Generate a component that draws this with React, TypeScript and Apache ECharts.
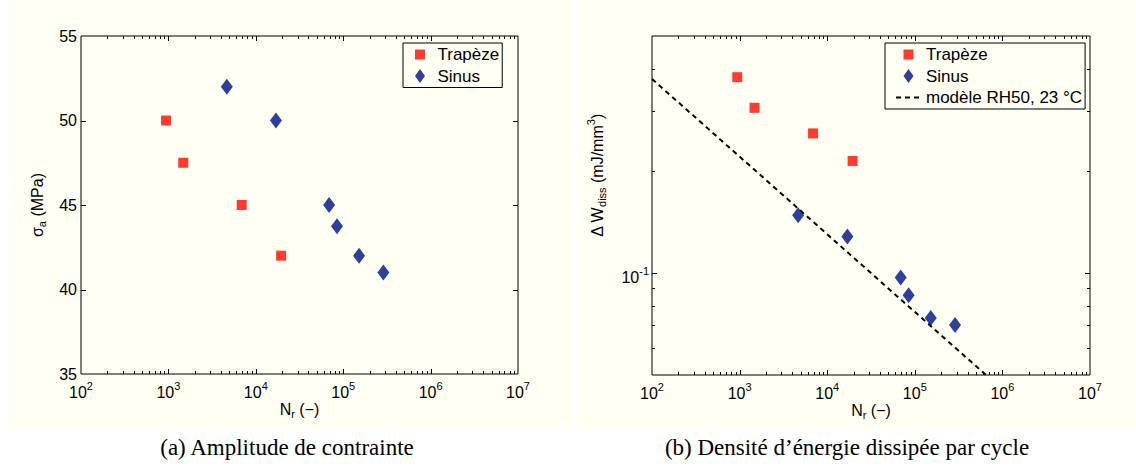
import React, { useEffect, useRef } from "react";
import * as echarts from "echarts";

// ---------- data ----------
const cyclesTrapeze = [940, 1480, 6900, 19500];
const cyclesSinus = [4660, 17000, 69000, 85000, 152000, 288000];
const stressTrapeze = [50, 47.5, 45, 42];
const stressSinus = [52, 50, 45, 43.75, 42, 41];
const energyTrapeze = [0.378, 0.307, 0.258, 0.214];
const energySinus = [0.148, 0.128, 0.097, 0.086, 0.0737, 0.0702];
const modelCycles = [100, 650000];
const modelEnergy = [0.3734, 0.05];

const seriesNames = ["Trapèze", "Sinus", "modèle RH50, 23 °C"];
const captions = ["(a) Amplitude de contrainte", "(b) Densité d’énergie dissipée par cycle"];

// tick values
const cycleDecades = [100, 1000, 10000, 100000, 1000000];
const cycleMajorTicks = [1000, 10000, 100000, 1000000];
const cycleMinorTicks = cycleDecades.flatMap((d) => [2, 3, 4, 5, 6, 7, 8, 9].map((m) => m * d));
const stressTicks = [40, 45, 50];
const energyMajorTicks = [0.1];
const energyMinorTicks = [0.06, 0.07, 0.08, 0.09, 0.2, 0.3, 0.4];

const FONT = "Liberation Sans, Arial, Helvetica, sans-serif";
const SERIF = "Liberation Serif, Times New Roman, serif";
const CREAM = "#fffff3";
const RED = "#ff3b2f";
const BLUE = "#2f3f9f";

const squareIcon = "path://M0,0M14,14M2,2L12,2L12,12L2,12Z";
const diamondIcon = "path://M0,0M14,14M7,0L12,7L7,14L2,7Z";

const rich = {
  b: { fontSize: 16, lineHeight: 16, padding: [5, 0, 5, 0], verticalAlign: "top", fontFamily: FONT, color: "#000" },
  s: { fontSize: 11, lineHeight: 11, padding: [1, 0, 14, 0], verticalAlign: "top", fontFamily: FONT, color: "#000" },
  u: { fontSize: 11, lineHeight: 11, padding: [12, 0, 3, 0], verticalAlign: "top", fontFamily: FONT, color: "#000" },
};

const zip = (a: number[], b: number[]) => a.map((v, i) => [v, b[i]]);

function tickSeries(axis: "x" | "y", grid: number, values: number[], ref: number, len: number) {
  return {
    type: "custom",
    xAxisIndex: grid,
    yAxisIndex: grid,
    silent: true,
    clip: false,
    z: 5,
    data: values.map((v) => (axis === "x" ? [v, ref] : [ref, v])),
    encode: { x: 0, y: 1 },
    renderItem: (params: any, api: any) => {
      const cs = params.coordSys;
      const p = api.coord([api.value(0), api.value(1)]);
      const st = { stroke: "#000", lineWidth: 1 };
      if (axis === "x") {
        const x = Math.round(p[0]) + 0.5;
        const b = cs.y + cs.height;
        return {
          type: "group",
          children: [
            { type: "line", shape: { x1: x, y1: b, x2: x, y2: b - len }, style: st },
            { type: "line", shape: { x1: x, y1: cs.y, x2: x, y2: cs.y + len }, style: st },
          ],
        };
      }
      const y = Math.round(p[1]) + 0.5;
      const r = cs.x + cs.width;
      return {
        type: "group",
        children: [
          { type: "line", shape: { x1: cs.x, y1: y, x2: cs.x + len, y2: y }, style: st },
          { type: "line", shape: { x1: r, y1: y, x2: r - len, y2: y }, style: st },
        ],
      };
    },
  };
}

const xAxisBase = (grid: number) => ({
  type: "log",
  logBase: 10,
  gridIndex: grid,
  min: 100,
  max: 10000000,
  splitNumber: 5,
  axisLine: { show: false },
  axisTick: { show: false },
  splitLine: { show: false },
  axisLabel: {
    margin: 5,
    formatter: (v: number) => `{b|10}{s|${Math.round(Math.log10(v))}}`,
    rich,
  },
  name: "{b|N}{u|r}{b| (−)}",
  nameLocation: "middle",
  nameGap: 22,
  nameMoveOverlap: false,
  nameTextStyle: { rich },
});

export default function App() {
  const ref = useRef<HTMLDivElement>(null);
  useEffect(() => {
    if (!ref.current) return;
    const chart = echarts.init(ref.current, null, { renderer: "svg" });
    const legendCommon = {
      orient: "vertical",
      itemWidth: 25,
      itemHeight: 14,
      itemGap: 4.5,
      padding: [3, 3, 3, 10],
      borderColor: "#000",
      borderWidth: 1,
      backgroundColor: CREAM,
      selectedMode: false,
      textStyle: { fontSize: 17, color: "#000", fontFamily: FONT },
    };
    const option: any = {
      animation: false,
      backgroundColor: "#ffffff",
      textStyle: { fontFamily: FONT },
      grid: [
        { left: 81, top: 36, width: 437, height: 338, show: true, borderColor: "#000", borderWidth: 1, backgroundColor: "transparent" },
        { left: 652, top: 36, width: 438, height: 339, show: true, borderColor: "#000", borderWidth: 1, backgroundColor: "transparent" },
      ],
      xAxis: [xAxisBase(0), xAxisBase(1)],
      yAxis: [
        {
          type: "value",
          gridIndex: 0,
          min: 35,
          max: 55,
          interval: 5,
          axisLine: { show: false },
          axisTick: { show: false },
          splitLine: { show: false },
          axisLabel: { margin: 4, fontSize: 16, color: "#000", fontFamily: FONT },
          name: "{b|σ}{u|a}{b| (MPa)}",
          nameLocation: "middle",
          nameGap: 41,
          nameMoveOverlap: false,
          nameTextStyle: { rich },
        },
        {
          type: "log",
          logBase: 10,
          gridIndex: 1,
          min: 0.05,
          max: 0.5,
          axisLine: { show: false },
          axisTick: { show: false },
          splitLine: { show: false },
          axisLabel: {
            margin: 3,
            showMinLabel: false,
            showMaxLabel: false,
            formatter: (v: number) => (Math.abs(Math.log10(v) + 1) < 1e-6 ? "{b|10}{s|-1}" : ""),
            rich,
          },
          name: "{b|Δ W}{u|diss}{b| (mJ/mm}{s|3}{b|)}",
          nameLocation: "middle",
          nameGap: 52,
          nameMoveOverlap: false,
          nameTextStyle: { rich, padding: [0, 0, 0, 60] },
        },
      ],
      legend: [
        { ...legendCommon, left: 403, top: 43, data: [{ name: seriesNames[0], icon: squareIcon }, { name: seriesNames[1], icon: diamondIcon }] },
        {
          ...legendCommon,
          left: 885,
          top: 43,
          data: [
            { name: seriesNames[0], icon: squareIcon },
            { name: seriesNames[1], icon: diamondIcon },
            { name: seriesNames[2], itemStyle: { opacity: 0 } },
          ],
        },
      ],
      graphic: [
        { type: "rect", z: -10, shape: { x: 7, y: 0, width: 565, height: 430 }, style: { fill: CREAM } },
        { type: "rect", z: -10, shape: { x: 578, y: 0, width: 558, height: 430 }, style: { fill: CREAM } },
        { type: "text", x: 287, y: 447, style: { text: captions[0], font: `23px ${SERIF}`, fill: "#000", textAlign: "center", textVerticalAlign: "middle" } },
        { type: "text", x: 847, y: 447, style: { text: captions[1], font: `23px ${SERIF}`, fill: "#000", textAlign: "center", textVerticalAlign: "middle" } },
      ],
      series: [
        { name: seriesNames[0], type: "scatter", xAxisIndex: 0, yAxisIndex: 0, symbol: "rect", symbolSize: 10, itemStyle: { color: RED, opacity: 1 }, data: zip(cyclesTrapeze, stressTrapeze), z: 3 },
        { name: seriesNames[1], type: "scatter", xAxisIndex: 0, yAxisIndex: 0, symbol: "diamond", symbolSize: [12, 16], itemStyle: { color: BLUE, opacity: 1 }, data: zip(cyclesSinus, stressSinus), z: 3 },
        { name: seriesNames[0], type: "scatter", xAxisIndex: 1, yAxisIndex: 1, symbol: "rect", symbolSize: 10, itemStyle: { color: RED, opacity: 1 }, data: zip(cyclesTrapeze, energyTrapeze), z: 3 },
        { name: seriesNames[1], type: "scatter", xAxisIndex: 1, yAxisIndex: 1, symbol: "diamond", symbolSize: [12, 16], itemStyle: { color: BLUE, opacity: 1 }, data: zip(cyclesSinus, energySinus), z: 3 },
        {
          name: seriesNames[2],
          type: "line",
          xAxisIndex: 1,
          yAxisIndex: 1,
          symbol: "none",
          lineStyle: { color: "#000", width: 2, type: [5, 4] },
          itemStyle: { color: "#000" },
          data: zip(modelCycles, modelEnergy),
          z: 4,
        },
        tickSeries("x", 0, cycleMajorTicks, 45, 5),
        tickSeries("x", 0, cycleMinorTicks, 45, 3),
        tickSeries("y", 0, stressTicks, 1000, 5),
        tickSeries("x", 1, cycleMajorTicks, 0.1, 5),
        tickSeries("x", 1, cycleMinorTicks, 0.1, 3),
        tickSeries("y", 1, energyMajorTicks, 1000, 5),
        tickSeries("y", 1, energyMinorTicks, 1000, 3),
      ],
    };
    chart.setOption(option);
    return () => chart.dispose();
  }, []);
  return <div ref={ref} style={{ position: "fixed", left: 0, top: 0, width: 1136, height: 467 }} />;
}
